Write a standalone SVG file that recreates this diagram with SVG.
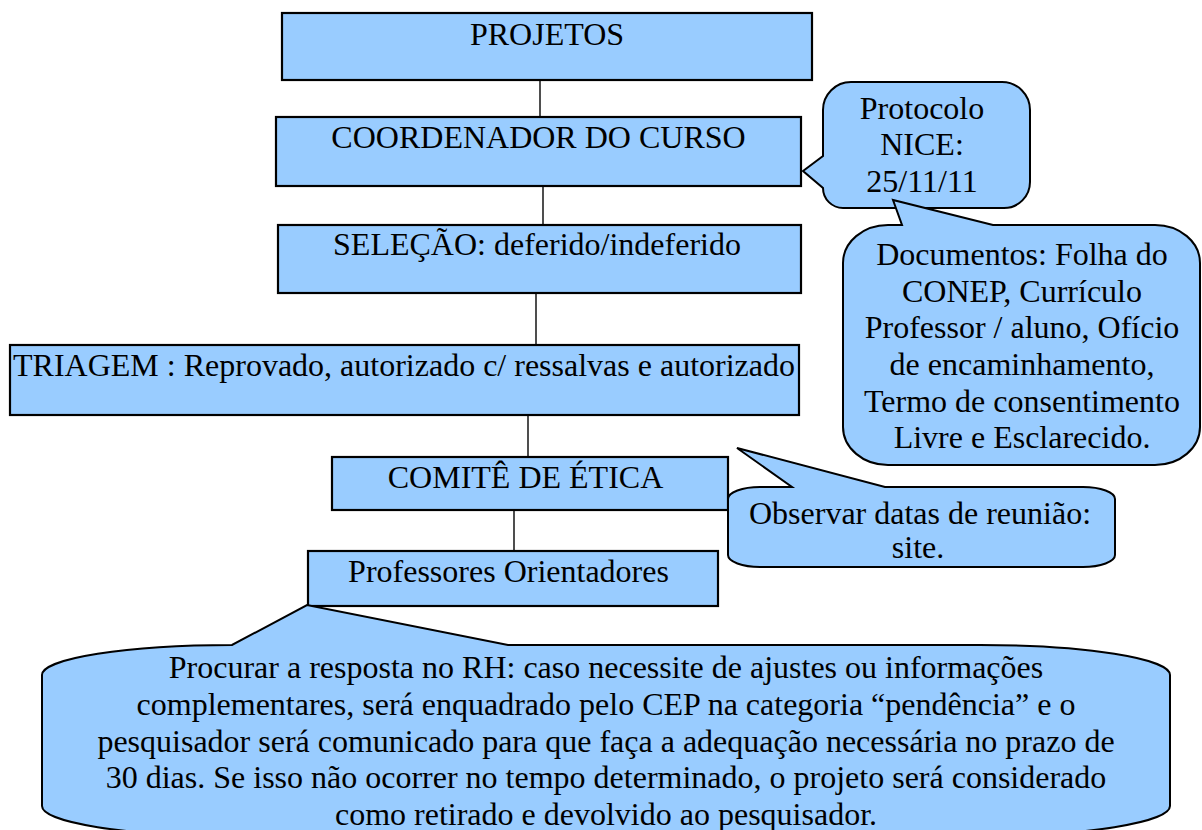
<svg xmlns="http://www.w3.org/2000/svg" width="1202" height="830" viewBox="0 0 1202 830">
<style>
.box{fill:#99CCFF;stroke:#000;stroke-width:2.2}
.call{fill:#99CCFF;stroke:#000;stroke-width:2;stroke-linejoin:miter}
.con{stroke:#222;stroke-width:1.6;fill:none}
text{font-family:'Liberation Serif','Times New Roman',Tinos,'DejaVu Serif',serif;font-size:32px;fill:#000;text-anchor:middle}
</style>
<rect width="1202" height="830" fill="#fff"/>
<g id="connectors">
<line class="con" x1="540" y1="80" x2="540" y2="117"/>
<line class="con" x1="543" y1="186" x2="543" y2="225"/>
<line class="con" x1="536" y1="293" x2="536" y2="345"/>
<line class="con" x1="528" y1="415" x2="528" y2="457"/>
<line class="con" x1="514" y1="510" x2="514" y2="551"/>
</g>
<g id="projetos"><rect class="box" x="282" y="13" width="530" height="67"/><text x="547" y="45">PROJETOS</text></g>
<g id="coordenador"><rect class="box" x="276" y="117" width="525" height="69"/><text x="538.5" y="148">COORDENADOR DO CURSO</text></g>
<g id="selecao"><rect class="box" x="278" y="225" width="523" height="68"/><text x="537" y="255">SELEÇÃO: deferido/indeferido</text></g>
<g id="triagem"><rect class="box" x="10" y="345" width="789" height="70"/><text x="404" y="376">TRIAGEM : Reprovado, autorizado c/ ressalvas e autorizado</text></g>
<g id="comite"><rect class="box" x="332" y="457" width="396" height="53"/><text x="525.5" y="488">COMITÊ DE ÉTICA</text></g>
<g id="professores"><rect class="box" x="308" y="551" width="410" height="55"/><text x="508.5" y="582">Professores Orientadores</text></g>
<g id="protocolo">
<path class="call" d="M851 82 H1002 A28 28 0 0 1 1030 110 V182 A26 26 0 0 1 1004 208 H843 A20 20 0 0 1 823 188 L803 171 L823 156 V110 A28 28 0 0 1 851 82 Z"/>
<text x="922" y="119">Protocolo</text><text x="922" y="155">NICE:</text><text x="922" y="192">25/11/11</text>
</g>
<g id="documentos">
<path class="call" d="M888 225 H902 L893 200 L993 225 H1155 A45 38 0 0 1 1200 263 V427 A45 38 0 0 1 1155 465 H888 A45 38 0 0 1 843 427 V263 A45 38 0 0 1 888 225 Z"/>
<text x="1022" y="265">Documentos: Folha do</text>
<text x="1022" y="302">CONEP, Currículo</text>
<text x="1022" y="338">Professor / aluno, Ofício</text>
<text x="1022" y="375">de encaminhamento,</text>
<text x="1022" y="412">Termo de consentimento</text>
<text x="1022" y="448">Livre e Esclarecido.</text>
</g>
<g id="observar">
<path class="call" d="M760 487 H792 L737 448 L885 487 H1083 A32 12 0 0 1 1115 499 V555 A32 12 0 0 1 1083 567 H760 A32 12 0 0 1 728 555 V499 A32 12 0 0 1 760 487 Z"/>
<text x="920" y="524">Observar datas de reunião:</text>
<text x="918" y="558">site.</text>
</g>
<g id="resposta">
<path class="call" d="M42 675 A190 30 0 0 1 232 645 L307 605 L508 645 H980 A190 30 0 0 1 1170 675 V806 A190 30 0 0 1 980 836 H232 A190 30 0 0 1 42 806 Z"/>
<text x="606" y="678">Procurar a resposta no RH: caso necessite de ajustes ou informações</text>
<text x="606" y="715">complementares, será enquadrado pelo CEP na categoria “pendência” e o</text>
<text x="606" y="752">pesquisador será comunicado para que faça a adequação necessária no prazo de</text>
<text x="606" y="788">30 dias. Se isso não ocorrer no tempo determinado, o projeto será considerado</text>
<text x="606" y="825">como retirado e devolvido ao pesquisador.</text>
</g>
</svg>
